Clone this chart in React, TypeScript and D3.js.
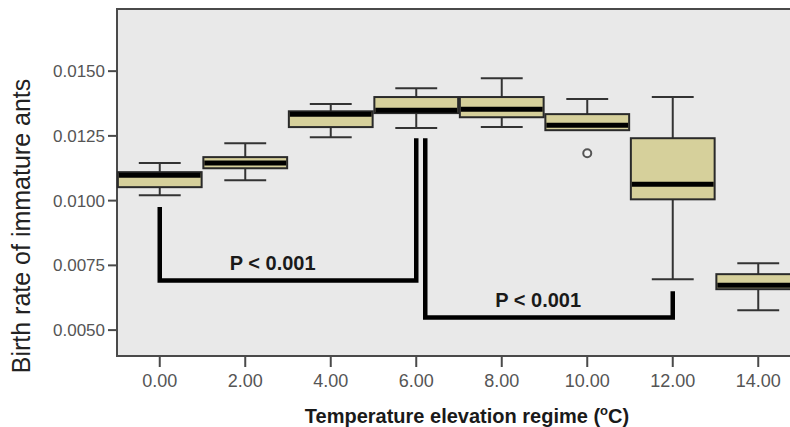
import * as d3 from 'd3';
import React, { useRef, useEffect } from 'react';

// temperature elevation groups
const categories = ["0.00", "2.00", "4.00", "6.00", "8.00", "10.00", "12.00", "14.00"];
// box plot stats per group
const whiskerLow = [0.01021, 0.01079, 0.01245, 0.01280, 0.01284, 0.01272, 0.00696, 0.00577];
const q1 = [0.01052, 0.01125, 0.01284, 0.01338, 0.01322, 0.01272, 0.01005, 0.00658];
const median = [0.01098, 0.01145, 0.01334, 0.01349, 0.01353, 0.01291, 0.01063, 0.00673];
const q3 = [0.01110, 0.01168, 0.01345, 0.01400, 0.01400, 0.01334, 0.01241, 0.00716];
const whiskerHigh = [0.01145, 0.01222, 0.01373, 0.01434, 0.01473, 0.01392, 0.01400, 0.00758];
const outlierCats = ["10.00"];
const outlierValues = [0.01183];
const yTicks = [0.0050, 0.0075, 0.0100, 0.0125, 0.0150];

// significance brackets
const bracketFrom = ["0.00", "6.00"];
const bracketTo = ["6.00", "12.00"];
const bracketFromY = [0.00975, 0.01241];
const bracketToY = [0.01241, 0.00650];
const bracketBaseY = [0.00692, 0.00549];
const bracketLabels = ["P < 0.001", "P < 0.001"];

const FONT = "'Liberation Sans', Arial, sans-serif";

function App() {
    const ref = useRef(null);

    useEffect(() => {
        const svg = d3.select(ref.current);
        svg.selectAll('*').remove();
        draw(svg);
    }, []);

    const draw = (svg) => {
        let left = 117, top = 9, bottom = 356, right = 801;

        let x = d3.scaleBand().domain(categories).range([left, right]).padding(0);
        let y = d3.scaleLinear().domain([0.0040, 0.0174]).range([bottom, top]);
        let bw = x.bandwidth() * 0.98;
        let capW = bw / 2;
        let cx = (c) => x(c) + x.bandwidth() / 2;

        // plot background + frame
        svg.append("rect")
            .attr("x", left).attr("y", top)
            .attr("width", right - left).attr("height", bottom - top)
            .attr("fill", "#e9e9e9")
            .attr("stroke", "#4a4a4a")
            .attr("stroke-width", 2);

        // y axis ticks
        let yg = svg.append("g");
        yTicks.forEach(t => {
            yg.append("line")
                .attr("x1", left - 9).attr("x2", left)
                .attr("y1", y(t)).attr("y2", y(t))
                .attr("stroke", "#4a4a4a").attr("stroke-width", 2);
            yg.append("text")
                .attr("x", left - 12).attr("y", y(t))
                .attr("dy", "0.35em")
                .attr("text-anchor", "end")
                .attr("font-family", FONT)
                .attr("font-size", "17px")
                .attr("fill", "#555")
                .text(d3.format(".4f")(t));
        });

        // x axis ticks
        let xg = svg.append("g");
        categories.forEach(c => {
            xg.append("line")
                .attr("x1", cx(c)).attr("x2", cx(c))
                .attr("y1", bottom).attr("y2", bottom + 11)
                .attr("stroke", "#4a4a4a").attr("stroke-width", 2);
            xg.append("text")
                .attr("x", cx(c)).attr("y", 387)
                .attr("text-anchor", "middle")
                .attr("font-family", FONT)
                .attr("font-size", "18px")
                .attr("fill", "#555")
                .text(c);
        });

        // boxes
        let boxes = svg.selectAll(".box")
            .data(categories)
            .enter()
            .append("g");

        boxes.append("line")
            .attr("x1", d => cx(d)).attr("x2", d => cx(d))
            .attr("y1", (d, i) => y(whiskerHigh[i]))
            .attr("y2", (d, i) => y(whiskerLow[i]))
            .attr("stroke", "#333").attr("stroke-width", 2);
        boxes.append("line")
            .attr("x1", d => cx(d) - capW / 2).attr("x2", d => cx(d) + capW / 2)
            .attr("y1", (d, i) => y(whiskerHigh[i])).attr("y2", (d, i) => y(whiskerHigh[i]))
            .attr("stroke", "#333").attr("stroke-width", 2);
        boxes.append("line")
            .attr("x1", d => cx(d) - capW / 2).attr("x2", d => cx(d) + capW / 2)
            .attr("y1", (d, i) => y(whiskerLow[i])).attr("y2", (d, i) => y(whiskerLow[i]))
            .attr("stroke", "#333").attr("stroke-width", 2)
            .attr("opacity", (d, i) => whiskerLow[i] < q1[i] ? 1 : 0);
        boxes.append("rect")
            .attr("x", d => cx(d) - bw / 2)
            .attr("y", (d, i) => y(q3[i]))
            .attr("width", bw)
            .attr("height", (d, i) => y(q1[i]) - y(q3[i]))
            .attr("fill", "#d6d09b")
            .attr("stroke", "#2a2a2a").attr("stroke-width", 2);
        boxes.append("line")
            .attr("x1", d => cx(d) - bw / 2 + 1).attr("x2", d => cx(d) + bw / 2 - 1)
            .attr("y1", (d, i) => y(median[i])).attr("y2", (d, i) => y(median[i]))
            .attr("stroke", "#000").attr("stroke-width", 5);

        // outliers
        svg.selectAll(".outlier")
            .data(outlierCats)
            .enter()
            .append("circle")
            .attr("cx", d => cx(d))
            .attr("cy", (d, i) => y(outlierValues[i]))
            .attr("r", 4)
            .attr("fill", "#f2f2f2")
            .attr("stroke", "#555").attr("stroke-width", 2);

        // brackets
        bracketFrom.forEach((f, i) => {
            let x1 = cx(f) + (i > 0 ? 9 : 0);
            let x2 = cx(bracketTo[i]);
            let path = d3.path();
            path.moveTo(x1, y(bracketFromY[i]));
            path.lineTo(x1, y(bracketBaseY[i]));
            path.lineTo(x2, y(bracketBaseY[i]));
            path.lineTo(x2, y(bracketToY[i]));
            svg.append("path")
                .attr("d", path.toString())
                .attr("fill", "none")
                .attr("stroke", "#000")
                .attr("stroke-width", 4.5);
            svg.append("text")
                .attr("x", x1 + 70).attr("y", y(bracketBaseY[i]) - 10)
                .attr("font-family", FONT)
                .attr("font-size", "20px")
                .attr("font-weight", "bold")
                .attr("fill", "#1a1a1a")
                .text(bracketLabels[i]);
        });

        // axis titles
        let xt = svg.append("text")
            .attr("x", 467).attr("y", 423)
            .attr("text-anchor", "middle")
            .attr("font-family", FONT)
            .attr("font-size", "20px")
            .attr("font-weight", "bold")
            .attr("fill", "#1a1a1a");
        xt.append("tspan").text("Temperature elevation regime (");
        xt.append("tspan").attr("dy", -8).attr("font-size", "13px").text("o");
        xt.append("tspan").attr("dy", 8).text("C)");

        svg.append("text")
            .attr("transform", "translate(30,226) rotate(-90)")
            .attr("text-anchor", "middle")
            .attr("font-family", FONT)
            .attr("font-size", "25px")
            .attr("fill", "#222")
            .text("Birth rate of immature ants");
    };

    return (
        <svg ref={ref} width={790} height={427}
             style={{ position: "absolute", left: 0, top: 0, background: "#fff" }}>
        </svg>
    );
}

export default App;
